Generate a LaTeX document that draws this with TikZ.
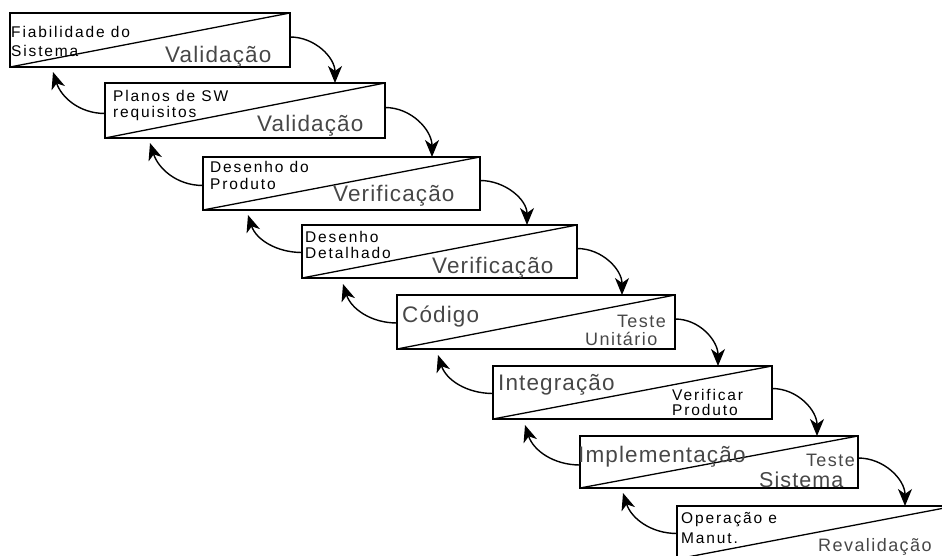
\documentclass[tikz,border=0pt]{standalone}
\usepackage{fontspec}
\setmainfont{Liberation Sans}
\newfontfamily\lblS[LetterSpace=12]{Liberation Sans}
\newfontfamily\lblM[LetterSpace=8]{Liberation Sans}
\newfontfamily\lblL[LetterSpace=5]{Liberation Sans}
\usetikzlibrary{arrows.meta}

\tikzset{
  phase/.style={draw=black, line width=1.5pt, rectangle, anchor=north west,
    inner sep=0pt, outer sep=0pt},
  split/.style={line width=1.3pt},
  smalltxt/.style={font=\lblS\fontsize{15.5}{18}\selectfont, text=black,
    inner sep=0pt, anchor=base west},
  midtxt/.style={font=\lblM\fontsize{18}{21}\selectfont, text=black!72,
    inner sep=0pt, anchor=base west},
  bigtxt/.style={font=\lblL\fontsize{22.5}{26}\selectfont, text=black!72,
    inner sep=0pt, anchor=base west},
  fwd/.style={line width=1.4pt, -{Stealth[length=17pt,width=14pt,inset=5pt]},
    out=0, in=90},
  back/.style={line width=1.4pt, -{Stealth[length=17pt,width=14pt,inset=5pt]},
    out=180, in=-72}
}

\begin{document}
\begin{tikzpicture}[x=1pt, y=-1pt]
\useasboundingbox (0,0) rectangle (942,556);
\clip (0,0) rectangle (942,556);

% phase boxes, stepping down to the right
\node[phase, minimum width=280pt, minimum height=54pt] (b1) at (10,13) {};
\node[phase, minimum width=280pt, minimum height=55pt] (b2) at (105,83) {};
\node[phase, minimum width=277pt, minimum height=53pt] (b3) at (203,157) {};
\node[phase, minimum width=275pt, minimum height=53pt] (b4) at (302,225) {};
\node[phase, minimum width=278pt, minimum height=54pt] (b5) at (397,295) {};
\node[phase, minimum width=279pt, minimum height=53pt] (b6) at (493,366) {};
\node[phase, minimum width=278pt, minimum height=52pt] (b7) at (580,436) {};
\node[phase, minimum width=278pt, minimum height=53pt] (b8) at (677,506) {};

% diagonal split of each box
\foreach \b in {b1,b2,b3,b4,b5,b6,b7,b8}
  \draw[split] (\b.south west) -- (\b.north east);

% box 1
\node[smalltxt] (t1a) at (11,38) {Fiabilidade do};
\node[smalltxt] (t1b) at (11,57) {Sistema};
\node[bigtxt] (t1c) at (165,63) {Validação};
% box 2
\node[smalltxt] (t2a) at (113,102) {Planos de SW};
\node[smalltxt] (t2b) at (113,118) {requisitos};
\node[bigtxt] (t2c) at (257,132) {Validação};
% box 3
\node[smalltxt] (t3a) at (210,173) {Desenho do};
\node[smalltxt] (t3b) at (210,190) {Produto};
\node[bigtxt] (t3c) at (333,202) {Verificação};
% box 4
\node[smalltxt] (t4a) at (305,242) {Desenho};
\node[smalltxt] (t4b) at (305,258) {Detalhado};
\node[bigtxt] (t4c) at (432,273) {Verificação};
% box 5
\node[bigtxt] (t5a) at (402,322) {Código};
\node[midtxt, anchor=base east] (t5b) at (666,327) {Teste};
\node[midtxt] (t5c) at (585,345) {Unitário};
% box 6
\node[bigtxt] (t6a) at (498,390) {Integração};
\node[smalltxt] (t6b) at (672,400) {Verificar};
\node[smalltxt] (t6c) at (672,415) {Produto};
% box 7
\node[bigtxt] (t7a) at (578,462) {Implementação};
\node[midtxt, anchor=base east] (t7b) at (855,466) {Teste};
\node[bigtxt, font=\lblL\fontsize{21.5}{25}\selectfont] (t7c) at (759,487) {Sistema};
% box 8
\node[smalltxt] (t8a) at (681,523) {Operação e};
\node[smalltxt] (t8b) at (681,543) {Manut.};
\node[midtxt] (t8c) at (818,551) {Revalidação};

% forward flow: right side of a box down onto the next one
\draw[fwd] ([yshift=3pt]b1.east) to ([xshift=-50pt]b2.north east);
\draw[fwd] ([yshift=3pt]b2.east) to ([xshift=-48pt]b3.north east);
\draw[fwd] ([yshift=3pt]b3.east) to ([xshift=-50pt]b4.north east);
\draw[fwd] ([yshift=3pt]b4.east) to ([xshift=-53pt]b5.north east);
\draw[fwd] ([yshift=3pt]b5.east) to ([xshift=-54pt]b6.north east);
\draw[fwd] ([yshift=4pt]b6.east) to ([xshift=-41pt]b7.north east);
\draw[fwd] ([yshift=4pt]b7.east) to ([xshift=-50pt]b8.north east);

% feedback: left side of a box back up to the previous one
\draw[back] ([yshift=-3pt]b2.west) to ([xshift=43pt,yshift=-5pt]b1.south west);
\draw[back] ([yshift=-2pt]b3.west) to ([xshift=45pt,yshift=-5pt]b2.south west);
\draw[back] ([yshift=-1pt]b4.west) to ([xshift=45pt,yshift=-5pt]b3.south west);
\draw[back] ([yshift=-1pt]b5.west) to ([xshift=41pt,yshift=-6pt]b4.south west);
\draw[back] ([yshift=-1pt]b6.west) to ([xshift=41pt,yshift=-6pt]b5.south west);
\draw[back] ([yshift=-3pt]b7.west) to ([xshift=32pt,yshift=-6pt]b6.south west);
\draw[back] ([yshift=-1pt]b8.west) to ([xshift=43pt,yshift=-5pt]b7.south west);
\end{tikzpicture}
\end{document}
